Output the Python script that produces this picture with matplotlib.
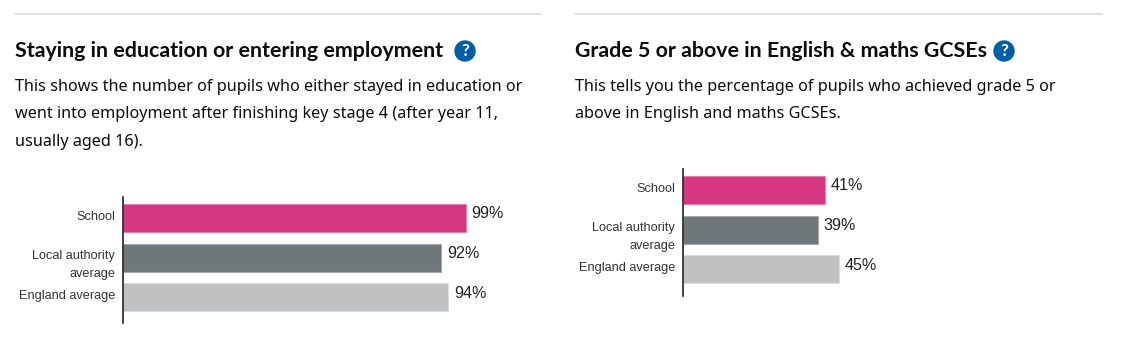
import matplotlib
matplotlib.use("Agg")
import matplotlib.pyplot as plt
from matplotlib.patches import Circle

W, H = 1122, 358

categories = ["School", "Local authority\naverage", "England average"]
left_values = [99, 92, 94]
right_values = [41, 39, 45]
bar_colors = ["#d53880", "#6f777b", "#bfc1c3"]
edge_colors = ["#e77fae", "#a5a9ab", "#dcddde"]

left_title = "Staying in education or entering employment"
left_text = ["This shows the number of pupils who either stayed in education or",
             "went into employment after finishing key stage 4 (after year 11,",
             "usually aged 16)."]
right_title = "Grade 5 or above in English & maths GCSEs"
right_text = ["This tells you the percentage of pupils who achieved grade 5 or",
              "above in English and maths GCSEs."]

fig = plt.figure(figsize=(W / 100, H / 100), dpi=100)

# background axes in pixel coordinates, for the headings and rules
bg = fig.add_axes([0, 0, 1, 1])
bg.set_xlim(0, W)
bg.set_ylim(H, 0)
bg.axis("off")


def heading(x0, x1, title, lines, icon_x):
    bg.plot([x0, x1], [14, 14], color="#dddddd", lw=1.3)
    bg.text(x0, 51, title, fontsize=15.4, fontweight="bold", family="Lato",
            color="#0b0c0c", va="center")
    bg.add_patch(Circle((icon_x, 51), 10, color="#005ea5"))
    bg.text(icon_x, 51, "?", fontsize=12.5, fontweight="bold", color="white",
            ha="center", va="center", family="Lato")
    for i, line in enumerate(lines):
        bg.text(x0, 87 + i * 27.5, line, fontsize=11.65, family="Noto Sans",
                color="#0b0c0c", va="center")


heading(15, 541, left_title, left_text, 465)
heading(575, 1102, right_title, right_text, 1004)


def bars(axis_x, top, bottom, values):
    # 3.46 pixels per percentage point
    width = 400
    ax = fig.add_axes([axis_x / W, 1 - bottom / H, width / W, (bottom - top) / H])
    ax.patch.set_alpha(0)
    ax.set_xlim(0, width / 3.46)
    ax.set_ylim(bottom - top, 0)
    pos = [21, 60.5, 100]
    ax.barh(pos, values, height=28, color=bar_colors, edgecolor=edge_colors, linewidth=0.8)
    for p, v in zip(pos, values):
        ax.text(v + 1.6, p - 4, "%d%%" % v, fontsize=11.6, family="Liberation Sans",
                color="#222222", va="center")
    # labels hang from their first line, so the two-line one runs downwards
    for p, c in zip(pos, categories):
        ax.text(-8 / 3.46, p - 7, c, family="Liberation Sans", fontsize=9.2, color="#333333",
                linespacing=1.6, ha="right", va="top")
    ax.set_yticks([])
    ax.set_xticks([])
    for s in ["top", "right", "bottom"]:
        ax.spines[s].set_visible(False)
    ax.spines["left"].set_linewidth(1.2)
    ax.spines["left"].set_color("#222222")


bars(123, 197, 323, left_values)
bars(683, 169, 296, right_values)

fig.savefig("out.png", dpi=100)
